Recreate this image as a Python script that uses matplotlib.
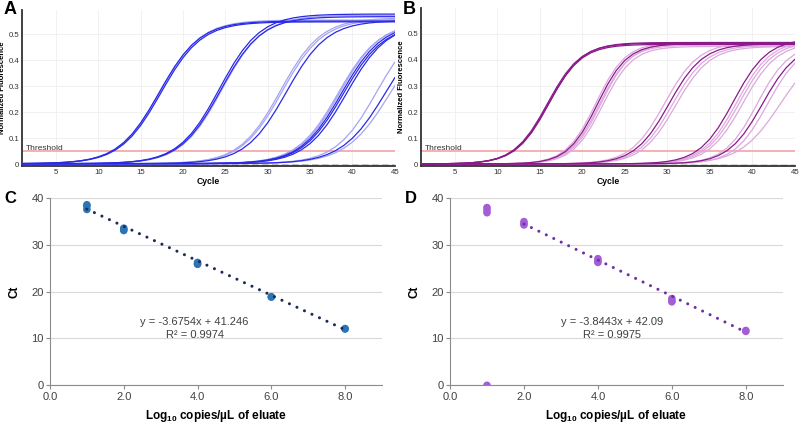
import numpy as np
import matplotlib
matplotlib.use("Agg")
import matplotlib.pyplot as plt

plt.rcParams['font.family'] = ['Liberation Sans', 'DejaVu Sans']
plt.rcParams['mathtext.fontset'] = 'custom'
plt.rcParams['mathtext.rm'] = 'Liberation Sans'
plt.rcParams['mathtext.bf'] = 'Liberation Sans:bold'

# ---------------- data ----------------
cycles = np.arange(1, 46)
threshold = 0.05
baseline = 0.002
neg_ctrl_cycles = [1, 45]
neg_ctrl_values = [-0.003, -0.004]

# Panel A amplification curves (logistic: midpoint cycle, slope, plateau, shade 1=dark)
a_mid = [17.2, 17.3, 17.4, 24.3, 24.45, 24.6, 31.5, 31.7, 32.2,
         38.3, 38.5, 38.7, 38.9, 39.3, 42.85, 43.95, 44.53]
a_slope = [2.4, 2.4, 2.4, 2.4, 2.4, 2.4, 2.4, 2.4, 2.4,
           2.4, 2.4, 2.4, 2.4, 2.4, 2.41, 2.58, 2.62]
a_plateau = [0.548, 0.552, 0.545, 0.575, 0.565, 0.57, 0.56, 0.555, 0.55,
             0.54, 0.545, 0.54, 0.535, 0.54, 0.55, 0.55, 0.55]
a_dark = [1, 0, 1, 1, 1, 0, 0, 0, 1, 0, 0, 1, 1, 1, 0, 1, 0]

# Panel B amplification curves
b_mid = [15.9, 16.0, 16.1, 21.6, 21.8, 22.0, 22.2, 22.4, 29.7, 30.2, 30.6, 31.0,
         37.8, 38.2, 38.5, 38.9, 40.57, 41.2, 41.8, 43.3]
b_slope = [1.95, 1.95, 1.95, 1.75, 1.75, 1.75, 1.75, 1.75, 2.0, 2.0, 2.0, 2.0,
           2.0, 2.0, 2.0, 2.0, 1.89, 2.0, 1.95, 2.37]
b_plateau = [0.462, 0.458, 0.465, 0.465, 0.46, 0.455, 0.462, 0.45, 0.465, 0.46, 0.455, 0.45,
             0.48, 0.475, 0.47, 0.465, 0.46, 0.46, 0.46, 0.46]
b_dark = [1, 1, 1, 0, 1, 0, 0, 0, 0, 1, 0, 0, 1, 0, 0, 0, 0, 1, 0, 0]

# Panel C standard curve
c_x = [1, 1, 1, 2, 2, 2, 4, 4, 4, 6, 6, 8, 8]
c_ct = [38.5, 38.2, 37.5, 33.5, 33.0, 33.2, 26.2, 25.8, 25.9, 18.9, 18.8, 12.1, 12.0]
c_slope, c_intercept, c_r2 = -3.6754, 41.246, 0.9974
c_fit_range = [1, 8]

# Panel D standard curve
d_x = [1, 1, 1, 1, 2, 2, 2, 4, 4, 4, 6, 6, 6, 8, 8]
d_ct = [37.9, 37.4, 36.8, 0.0, 34.9, 34.2, 34.5, 27.0, 26.5, 26.2, 18.5, 18.0, 17.8, 11.7, 11.5]
d_slope, d_intercept, d_r2 = -3.8443, 42.09, 0.9975
d_fit_range = [2, 8]

# ---------------- figure ----------------
fig = plt.figure(figsize=(8.0, 4.23), dpi=100)


def amp_panel(rect, mids, slopes, plats, darks, dark_col, light_col, ylim, ylab_x):
    ax = fig.add_axes(rect)
    ax.set_xlim(1, 45)
    ax.set_ylim(*ylim)
    ax.set_xticks([5, 10, 15, 20, 25, 30, 35, 40, 45])
    ax.set_yticks([0, 0.1, 0.2, 0.3, 0.4, 0.5])
    ax.set_yticklabels(['0', '0.1', '0.2', '0.3', '0.4', '0.5'])
    ax.grid(True, color='#EFEFEF', lw=0.6)
    ax.set_axisbelow(True)
    for s in ['top', 'right']:
        ax.spines[s].set_visible(False)
    for s in ['left', 'bottom']:
        ax.spines[s].set_color('#333333')
        ax.spines[s].set_linewidth(1.3)
    ax.tick_params(length=0, labelsize=5.6, colors='#333333', pad=2)
    ax.plot(neg_ctrl_cycles, neg_ctrl_values, color='#B0B0B0', lw=1.2,
            ls=(0, (4, 2)), zorder=2)
    ax.axhline(threshold, color='#F5A3A3', lw=1.2, zorder=2)
    ax.text(1.5, threshold + 0.006, 'Threshold', fontsize=6, color='#333333')
    order = sorted(range(len(mids)), key=lambda i: darks[i])
    for i in order:
        y = baseline + plats[i] / (1 + np.exp(-(cycles - mids[i]) / slopes[i]))
        col = dark_col if darks[i] else light_col
        ax.plot(cycles, y, color=col, lw=0.9, zorder=3)
    ax.set_xlabel('Cycle', fontsize=6.2, fontweight='bold', labelpad=1)
    ax.set_ylabel('Normalized Fluorescence', fontsize=5.5, fontweight='bold')
    ax.yaxis.set_label_coords(ylab_x, 0.5)
    return ax


amp_panel([0.0275, 0.6076, 0.466, 0.369], a_mid, a_slope, a_plateau, a_dark,
          '#2A2AE6', '#A4A4F4', (-0.007, 0.593), -0.043)
amp_panel([0.526, 0.6076, 0.4675, 0.374], b_mid, b_slope, b_plateau, b_dark,
          '#8A1A8A', '#DDA8DD', (-0.006, 0.60), -0.041)


def std_panel(rect, xs, cts, slope, intercept, r2, fit_range, pcol, lcol, eqx):
    ax = fig.add_axes(rect)
    ax.set_xlim(0, 9)
    ax.set_ylim(0, 40)
    ax.set_xticks([0, 2, 4, 6, 8])
    ax.set_xticklabels(['0.0', '2.0', '4.0', '6.0', '8.0'])
    ax.set_yticks([0, 10, 20, 30, 40])
    ax.yaxis.grid(True, color='#D9D9D9', lw=0.8)
    ax.set_axisbelow(True)
    for s in ['top', 'right']:
        ax.spines[s].set_visible(False)
    for s in ['left', 'bottom']:
        ax.spines[s].set_color('#8C8C8C')
        ax.spines[s].set_linewidth(0.8)
    ax.tick_params(direction='out', length=3, width=0.8, color='#8C8C8C',
                   labelsize=8, labelcolor='#404040', pad=1.5)
    fx = np.array(fit_range, dtype=float)
    ax.plot(fx, slope * fx + intercept, color=lcol, lw=2.2, ls=(0, (0.01, 2.7)),
            dash_capstyle='round', zorder=4)
    ax.scatter(xs, cts, s=30, color=pcol, zorder=3, edgecolors='none')
    ax.text(eqx, 13.4, f'y = {slope}x + {intercept}', ha='center', va='center',
            fontsize=8, color='#404040')
    ax.text(eqx, 10.7, f'R² = {r2}', ha='center', va='center',
            fontsize=8, color='#404040')
    ax.set_ylabel('Ct', fontsize=8.5, fontweight='bold')
    ax.yaxis.set_label_coords(-0.09, 0.5)
    ax.set_xlabel(r'Log$_{\mathbf{10}}$ copies/µL of eluate', fontsize=8.5,
                  fontweight='bold')
    ax.xaxis.set_label_coords(0.5, -0.12)
    return ax


std_panel([0.0625, 0.0891, 0.415, 0.4435], c_x, c_ct, c_slope, c_intercept, c_r2,
          c_fit_range, '#2E74B5', '#1C2A5A', 3.92)
std_panel([0.5625, 0.0891, 0.416, 0.4435], d_x, d_ct, d_slope, d_intercept, d_r2,
          d_fit_range, '#A35ED6', '#7030A0', 4.38)

for lbl, x, y, fs in [('A', 0.004, 0.998, 13), ('B', 0.503, 0.998, 13),
                       ('C', 0.006, 0.548, 12), ('D', 0.506, 0.548, 12)]:
    fig.text(x, y, lbl, fontsize=fs, fontweight='bold', va='top', ha='left')

fig.savefig('out.png', dpi=100)
